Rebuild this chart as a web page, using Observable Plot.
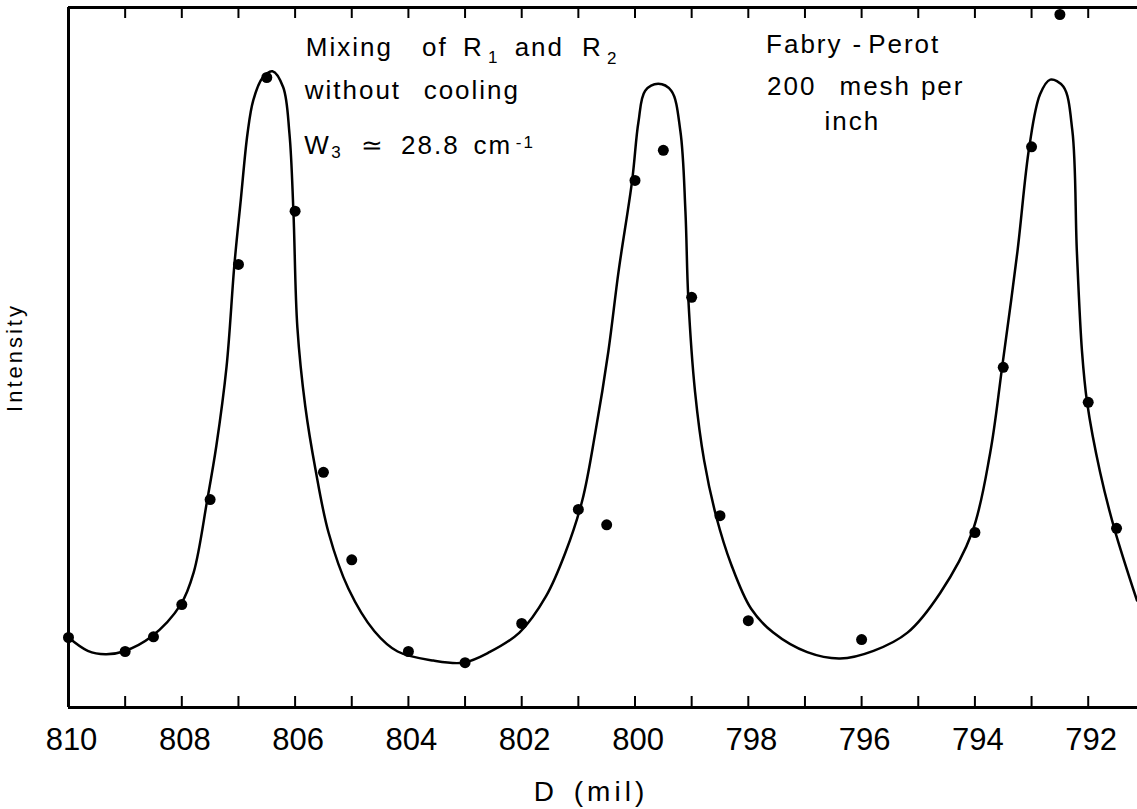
<!DOCTYPE html>
<html>
<head>
<meta charset="utf-8">
<script src="https://cdn.jsdelivr.net/npm/d3@7"></script>
<script src="https://cdn.jsdelivr.net/npm/@observablehq/plot@0.6"></script>
<style>
  html, body { margin: 0; padding: 0; background: #fff; }
  #chart svg { display: block; font-family: "Liberation Sans", Arial, sans-serif; }
  text[aria-label="note"] { letter-spacing: 2px; }
  text[aria-label="x-label"] { letter-spacing: 4px; word-spacing: 4px; }
  text[aria-label="y-label"] { letter-spacing: 3px; }
</style>
</head>
<body>
<div id="chart"></div>
<script>
// Measured points: D (mil) and intensity (arbitrary units, 0 = bottom axis, 100 = top frame)
const pointD = [810, 809, 808.5, 808, 807.5, 807, 806.5, 806, 805.5, 805, 804, 803, 802, 801, 800.5, 800, 799.5, 799, 798.5, 798, 796, 794, 793.5, 793, 792.5, 792, 791.5];
const pointI = [10.0, 8.0, 10.1, 14.7, 29.7, 63.3, 90.0, 70.9, 33.6, 21.1, 8.0, 6.4, 12.0, 28.3, 26.1, 75.3, 79.6, 58.6, 27.4, 12.4, 9.7, 25.0, 48.6, 80.1, 99.0, 43.6, 25.6];

// Hand-drawn fitted curve
const curveD = [810.00, 809.66, 809.35, 809.03, 808.54, 808.02, 807.79, 807.55, 807.39, 807.21, 807.07, 806.96, 806.84, 806.74, 806.58, 806.40, 806.21, 806.10, 806.03, 805.96, 805.82, 805.64, 805.41, 805.06, 804.60, 804.19, 803.56, 803.03, 802.57, 802.04, 801.57, 801.23, 800.93, 800.70, 800.47, 800.29, 800.05, 799.94, 799.82, 799.59, 799.36, 799.20, 799.11, 799.06, 798.94, 798.78, 798.57, 798.30, 797.95, 797.56, 796.96, 796.38, 795.79, 795.19, 794.61, 794.05, 793.73, 793.52, 793.25, 793.04, 792.85, 792.67, 792.44, 792.28, 792.20, 792.11, 792.02, 791.79, 791.54, 791.14];
const curveI = [10.0, 8.1, 7.6, 8.0, 10.1, 14.7, 19.3, 29.7, 37.4, 48.7, 63.4, 72.4, 82.0, 86.7, 89.9, 90.9, 88.6, 82.0, 70.9, 54.3, 43.0, 34.0, 25.0, 17.0, 10.9, 8.0, 6.7, 6.4, 7.9, 10.7, 15.9, 22.1, 29.6, 39.3, 50.9, 62.3, 75.3, 83.6, 88.1, 89.1, 88.1, 82.4, 70.9, 58.6, 45.1, 35.3, 27.4, 20.4, 14.1, 10.7, 7.9, 7.0, 8.1, 10.7, 16.4, 25.0, 36.4, 48.6, 65.1, 80.1, 87.6, 89.7, 88.7, 82.4, 65.1, 50.9, 43.6, 33.6, 25.6, 15.3];

// Axis ticks
const minorTicks = [809, 808, 807, 806, 805, 804, 803, 802, 801, 800, 799, 798, 797, 796, 795, 794, 793, 792];
const labelTicks = [810, 808, 806, 804, 802, 800, 798, 796, 794, 792];

// Text
const xLabel = "D (mil)";
const yLabel = "Intensity";
// Annotation words (left block, then right block)
const noteWords = ["Mixing", "of", "R", "1", "and", "R", "2",
                   "without", "cooling",
                   "W", "3", "\u2243", "28.8", "cm", "-1",
                   "Fabry", "-", "Perot",
                   "200", "mesh", "per",
                   "inch"];
// Centre of each word in chart units (D, intensity at baseline)
const noteD = [805.042, 803.533, 802.853, 802.492, 801.689, 800.754, 800.392,
               804.980, 802.880,
               805.606, 805.262, 804.618, 803.612, 802.509, 801.936,
               797.012, 796.068, 795.248,
               797.233, 795.759, 794.569,
               796.165];
const noteI = [93.14, 93.14, 93.14, 92.14, 93.14, 93.14, 92.00,
               86.86, 86.86,
               79.14, 78.57, 79.14, 79.14, 79.14, 79.86,
               93.43, 93.43, 93.43,
               87.43, 87.43, 87.43,
               82.43];
const noteSmall = ["1", "2", "3", "-1"];

const points = pointD.map((d, i) => ({d, v: pointI[i]}));
const curve = curveD.map((d, i) => ({d, v: curveI[i]}));
const notes = noteWords.map((t, i) => ({t, d: noteD[i], v: noteI[i], small: noteSmall.includes(t) && i !== 16}));

const innerH = 700;

const chart = Plot.plot({
  width: 1137,
  height: 809,
  marginLeft: 68,
  marginRight: 0,
  marginTop: 7,
  marginBottom: 102,
  x: {domain: [810, 791.13], label: null},
  y: {domain: [0, 100], axis: null},
  style: {background: "#fff", color: "#000"},
  marks: [
    Plot.line(curve, {x: "d", y: "v", curve: "catmull-rom", stroke: "#000", strokeWidth: 2.5, clip: true}),
    Plot.dot(points, {x: "d", y: "v", r: 5.5, fill: "#000", stroke: "none"}),
    // frame: left, bottom, top
    Plot.ruleX([810], {stroke: "#000", strokeWidth: 3}),
    Plot.ruleY([0], {stroke: "#000", strokeWidth: 3}),
    Plot.ruleY([100], {stroke: "#000", strokeWidth: 3}),
    // inward ticks on bottom and top
    Plot.tickX(minorTicks, {x: d => d, insetTop: innerH - 11, stroke: "#000", strokeWidth: 2}),
    Plot.tickX(minorTicks, {x: d => d, insetBottom: innerH - 11, stroke: "#000", strokeWidth: 2}),
    Plot.axisX(labelTicks, {anchor: "bottom", tickSize: 0, tickPadding: 20, fontSize: 31, dx: 3, tickFormat: d => String(d), label: null, fill: "#000"}),
    Plot.text([xLabel], {frameAnchor: "bottom", textAnchor: "middle", dx: -12, dy: 93, lineAnchor: "bottom", fontSize: 28, fill: "#000", ariaLabel: () => "x-label"}),
    Plot.text([yLabel], {frameAnchor: "left", textAnchor: "middle", dx: -54, rotate: -90, fontSize: 22, fill: "#000", ariaLabel: () => "y-label"}),
    Plot.text(notes, {x: "d", y: "v", text: "t", fontSize: d => d.small ? 17 : 26, textAnchor: "middle", lineAnchor: "bottom", fill: "#000", ariaLabel: () => "note"})
  ]
});
document.getElementById("chart").appendChild(chart);
</script>
</body>
</html>
